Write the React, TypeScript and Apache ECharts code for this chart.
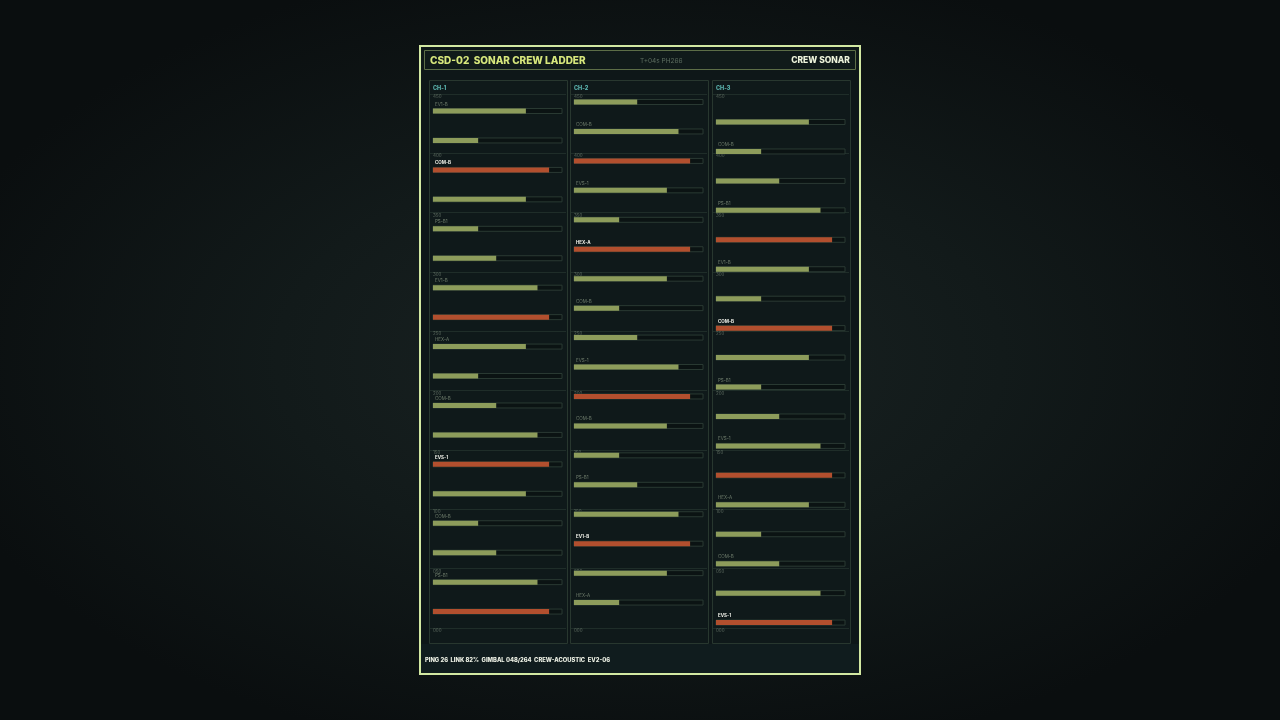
import React, { useEffect, useRef } from "react";
import * as echarts from "echarts";

// ---- data ----
const COLUMNS = ["CH-1", "CH-2", "CH-3"];
const TICK_VALUES = [450, 400, 350, 300, 250, 200, 150, 100, 50, 0];
const CH1_VALUES = [72, 35, 90, 72, 35, 49, 81, 90, 72, 35, 49, 81, 90, 72, 35, 49, 81, 90];
const CH2_VALUES = [49, 81, 90, 72, 35, 90, 72, 35, 49, 81, 90, 72, 35, 49, 81, 90, 72, 35];
const CH3_VALUES = [72, 35, 49, 81, 90, 72, 35, 90, 72, 35, 49, 81, 90, 72, 35, 49, 81, 90];
const CH1_TAGS = ["EV1-B", "", "COM-B", "", "PS-B1", "", "EV1-B", "", "HEX-A", "", "COM-B", "", "EVS-1", "", "COM-B", "", "PS-B1", ""];
const CH2_TAGS = ["", "COM-B", "", "EVS-1", "", "HEX-A", "", "COM-B", "", "EVS-1", "", "COM-B", "", "PS-B1", "", "EV1-B", "", "HEX-A"];
const CH3_TAGS = ["", "COM-B", "", "PS-B1", "", "EV1-B", "", "COM-B", "", "PS-B1", "", "EVS-1", "", "HEX-A", "", "COM-B", "", "EVS-1"];
const ALERT_LEVEL = 90;
const TITLE = "CSD-02  SONAR CREW LADDER";
const SUBTITLE = "T+04s PH266";
const RIGHT_TITLE = "CREW SONAR";
const FOOTER = "PING 26  LINK 82%  GIMBAL 048/264  CREW-ACOUSTIC  EV2-06";

const VALUES = [CH1_VALUES, CH2_VALUES, CH3_VALUES];
const TAGS = [CH1_TAGS, CH2_TAGS, CH3_TAGS];

// ---- layout ----
const COL_LEFT = [429, 570, 712];
const COL_W = 138;
const COL_TOP = 80;
const COL_H = 563;
const TRACK_LEFT = [433, 574, 716];
const TRACK_W = 129;
const BAR_TOP = [96.3, 87.3, 107.3];
const BAR_H = 530;

const GREEN = "#8d9c5b";
const RED = "#b24f2e";
const FONT = "Inter, 'DejaVu Sans', sans-serif";

export default function App() {
  const ref = useRef<HTMLDivElement>(null);
  useEffect(() => {
    if (!ref.current) return;
    const chart = echarts.init(ref.current, null, { renderer: "svg" });
    const grid: any[] = [];
    const xAxis: any[] = [];
    const yAxis: any[] = [];
    const series: any[] = [];
    COLUMNS.forEach((_, c) => {
      // tick grid
      grid.push({ left: COL_LEFT[c] + 1, width: COL_W - 2, top: 94, height: 534 });
      xAxis.push({ gridIndex: 2 * c, type: "value", show: false, min: 0, max: 1 });
      yAxis.push({
        gridIndex: 2 * c,
        type: "value",
        min: 0,
        max: 450,
        interval: 50,
        axisLine: { show: false },
        axisTick: { show: false },
        splitLine: { show: true, lineStyle: { color: "#1f2d29", width: 1 } },
        axisLabel: {
          inside: true,
          margin: 3,
          fontSize: 4.5,
          color: "#5c6a5f",
          fontFamily: FONT,
          verticalAlign: "top",
          formatter: (v: number) => String(v).padStart(3, "0"),
        },
      });
      series.push({
        type: "line",
        xAxisIndex: 2 * c,
        yAxisIndex: 2 * c,
        data: [],
        silent: true,
      });
      // bar grid
      grid.push({ left: TRACK_LEFT[c], width: TRACK_W, top: BAR_TOP[c], height: BAR_H });
      xAxis.push({ gridIndex: 2 * c + 1, type: "value", min: 0, max: 100, show: false });
      yAxis.push({
        gridIndex: 2 * c + 1,
        type: "category",
        inverse: true,
        show: false,
        data: VALUES[c].map((_, i) => String(i)),
      });
      series.push({
        type: "bar",
        xAxisIndex: 2 * c + 1,
        yAxisIndex: 2 * c + 1,
        barWidth: 5,
        z: 5,
        showBackground: true,
        backgroundStyle: { color: "#0b1313", borderColor: "#2a3a33", borderWidth: 1 },
        data: VALUES[c].map((v) => ({
          value: v,
          itemStyle: { color: v >= ALERT_LEVEL ? RED : GREEN },
        })),
        label: {
          show: true,
          position: [2, -7],
          fontSize: 4.5,
          fontFamily: FONT,
          formatter: (p: any) => TAGS[c][p.dataIndex],
          rich: {},
        },
        labelLayout: {},
      });
      // colour tags white for alert rows
      series[series.length - 1].data = VALUES[c].map((v, i) => ({
        value: v,
        itemStyle: { color: v >= ALERT_LEVEL ? RED : GREEN },
        label: {
          color: v >= ALERT_LEVEL ? "#f2f2ea" : "#6f7d6c",
          fontWeight: v >= ALERT_LEVEL ? "bold" : "normal",
        },
      }));
    });

    const graphic: any[] = [
      {
        type: "rect",
        z: -20,
        shape: { x: 420, y: 46, width: 440, height: 628 },
        style: { fill: "#0e1718", stroke: "#d2e8a2", lineWidth: 2 },
      },
      {
        type: "rect",
        z: -19,
        shape: { x: 421, y: 644, width: 438, height: 29 },
        style: { fill: "#101c1e" },
      },
      {
        type: "rect",
        z: -19,
        shape: { x: 424.5, y: 50.5, width: 431, height: 19 },
        style: { fill: "#101a1a", stroke: "#5c6d47", lineWidth: 1 },
      },
      {
        type: "text",
        z: 20,
        x: 430,
        y: 60,
        style: { text: TITLE, fill: "#d6e67c", font: `800 10px ${FONT}`, verticalAlign: "middle" },
      },
      {
        type: "text",
        z: 20,
        x: 640,
        y: 60.5,
        style: { text: SUBTITLE, fill: "#5d6d60", font: `400 6.5px ${FONT}`, verticalAlign: "middle" },
      },
      {
        type: "text",
        z: 20,
        x: 850,
        y: 60,
        style: { text: RIGHT_TITLE, fill: "#eef4dc", font: `800 8.5px ${FONT}`, align: "right", verticalAlign: "middle" },
      },
      {
        type: "text",
        z: 20,
        x: 425,
        y: 659,
        style: { text: FOOTER, fill: "#eef2e6", font: `800 5.8px ${FONT}`, verticalAlign: "middle" },
      },
    ];
    COLUMNS.forEach((name, c) => {
      graphic.push({
        type: "rect",
        z: -15,
        shape: { x: COL_LEFT[c] + 0.5, y: COL_TOP + 0.5, width: COL_W, height: COL_H },
        style: { fill: "#0f191a", stroke: "#28372f", lineWidth: 1 },
      });
      graphic.push({
        type: "text",
        z: 20,
        x: COL_LEFT[c] + 4,
        y: 87.5,
        style: { text: name, fill: "#5cb6b0", font: `800 5.5px ${FONT}`, verticalAlign: "middle" },
      });
    });

    chart.setOption({
      animation: false,
      backgroundColor: "transparent",
      grid,
      xAxis,
      yAxis,
      series,
      graphic,
    });
    return () => chart.dispose();
  }, []);
  return (
    <div
      style={{
        position: "fixed",
        left: 0,
        top: 0,
        width: 1280,
        height: 720,
        background: "radial-gradient(ellipse at 50% 50%, #1a2323 0%, #121a1a 40%, #0a0e0f 80%)",
      }}
    >
      <div ref={ref} style={{ width: 1280, height: 720 }} />
    </div>
  );
}
